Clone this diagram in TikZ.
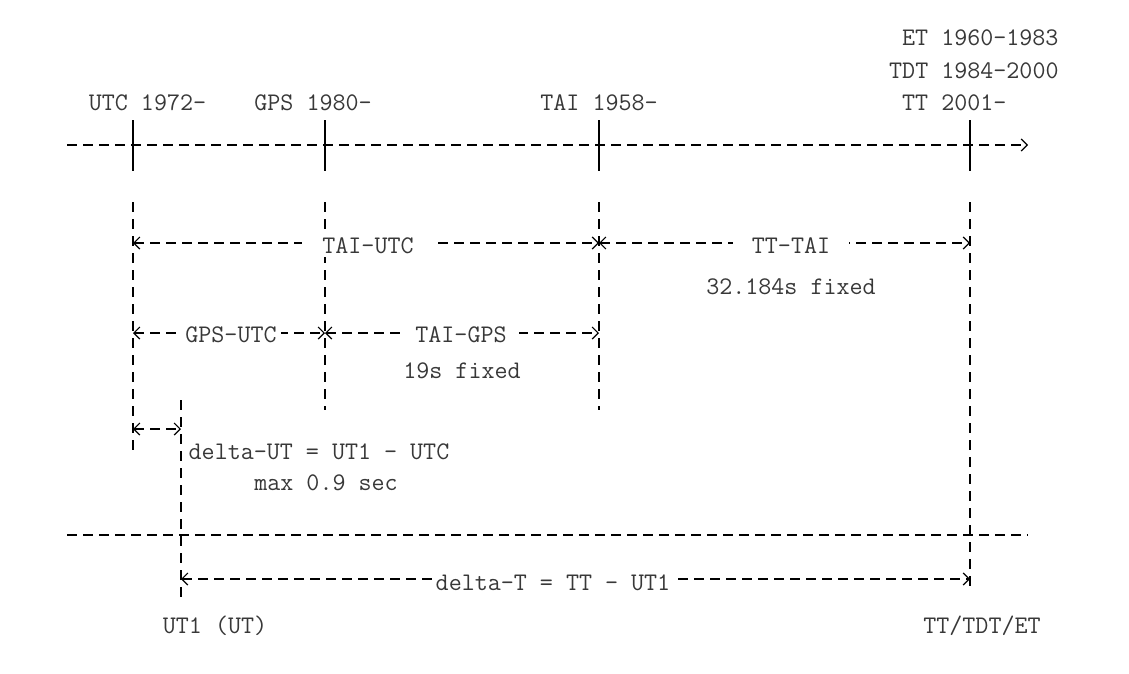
\documentclass[tikz,border=0pt]{standalone}
\usetikzlibrary{arrows.meta}
\begin{document}
\begin{tikzpicture}[x=1pt,y=-1pt,
  ln/.style={line width=1.2pt,black},
  dsh/.style={ln,dash pattern=on 10pt off 6pt},
  vdsh/.style={ln,dash pattern=on 10pt off 7pt},
  tip/.tip={Straight Barb[length=6pt,width=12pt,line width=1.2pt]},
  harr/.style={dsh,tip-tip},
  lab/.style={font=\ttfamily\fontsize{25.3}{30}\selectfont, text=black!78, inner sep=0pt, anchor=base},
  alab/.style={lab, fill=white, inner ysep=4pt}
]
\useasboundingbox (0,0) rectangle (1129,673);

% axes
\coordinate (axL) at (67,145); \coordinate (axR) at (1028,145);
\coordinate (bL) at (67,535);  \coordinate (bR) at (1028,535);

% ticks on top axis
\coordinate (utcT) at (133,120); \coordinate (utcB) at (133,171);
\coordinate (gpsT) at (325,120); \coordinate (gpsB) at (325,171);
\coordinate (taiT) at (599,120); \coordinate (taiB) at (599,171);
\coordinate (ttT)  at (970,120); \coordinate (ttB)  at (970,171);

% vertical dashed guides
\coordinate (utcV1) at (133,202); \coordinate (utcV2) at (133,457);
\coordinate (gpsV1) at (325,202); \coordinate (gpsV2) at (325,410);
\coordinate (taiV1) at (599,202); \coordinate (taiV2) at (599,410);
\coordinate (ttV1)  at (970,202); \coordinate (ttV2)  at (970,592);
\coordinate (ut1V1) at (181,400); \coordinate (ut1V2) at (181,597);

% arrow ends
\coordinate (a1L) at (133,243); \coordinate (a1M) at (599,243); \coordinate (a1R) at (970,243);
\coordinate (a2L) at (133,333); \coordinate (a2M) at (325,333); \coordinate (a2R) at (599,333);
\coordinate (a3L) at (133,429); \coordinate (a3R) at (181,429);
\coordinate (a4L) at (181,579); \coordinate (a4R) at (970,579);

% vertical guides
\draw[vdsh] (utcV1) -- (utcV2);
\draw[vdsh] (gpsV1) -- (gpsV2);
\draw[vdsh] (taiV1) -- (taiV2);
\draw[vdsh] (ttV1) -- (ttV2);
\draw[vdsh] (ut1V1) -- (ut1V2);

% axes
\draw[dsh,-tip] (axL) -- (axR);
\draw[dsh] (bL) -- (bR);
\draw[ln] (utcT) -- (utcB);
\draw[ln] (gpsT) -- (gpsB);
\draw[ln] (taiT) -- (taiB);
\draw[ln] (ttT) -- (ttB);

% double arrows
\draw[harr] (a1L) -- (a1M);
\draw[harr] (a1M) -- (a1R);
\draw[harr] (a2L) -- (a2M);
\draw[harr] (a2M) -- (a2R);
\draw[harr] (a3L) -- (a3R);
\draw[harr] (a4L) -- (a4R);

% top labels
\node[lab] (lutc) at (147.5,110) {UTC 1972-};
\node[lab] (lgps) at (313,110) {GPS 1980-};
\node[lab] (ltai) at (599,110) {TAI 1958-};
\node[lab,anchor=base west] (let)  at (902,45)  {ET 1960-1983};
\node[lab,anchor=base west] (ltdt) at (889,78)  {TDT 1984-2000};
\node[lab,anchor=base west] (ltt)  at (902,110) {TT 2001-};

% arrow labels
\node[alab,inner xsep=20pt] (ltaiutc) at (368,253) {TAI-UTC};
\node[alab,inner xsep=19pt] (ltttai) at (791,253) {TT-TAI};
\node[lab] (lfix1) at (791,294) {32.184s fixed};
\node[alab,inner xsep=4pt] (lgpsutc) at (231,342) {GPS-UTC};
\node[alab,inner xsep=12pt] (ltaigps) at (461,342) {TAI-GPS};
\node[lab] (lfix2) at (462,378) {19s fixed};
\node[lab] (ldut) at (319,459) {delta-UT = UT1 - UTC};
\node[lab] (lmax) at (326,490) {max 0.9 sec};
\node[alab,inner xsep=4pt] (ldt) at (553,590) {delta-T = TT - UT1};

% bottom labels
\node[lab] (lut1) at (215,633) {UT1 (UT)};
\node[lab] (lttb) at (982,633) {TT/TDT/ET};
\end{tikzpicture}
\end{document}
